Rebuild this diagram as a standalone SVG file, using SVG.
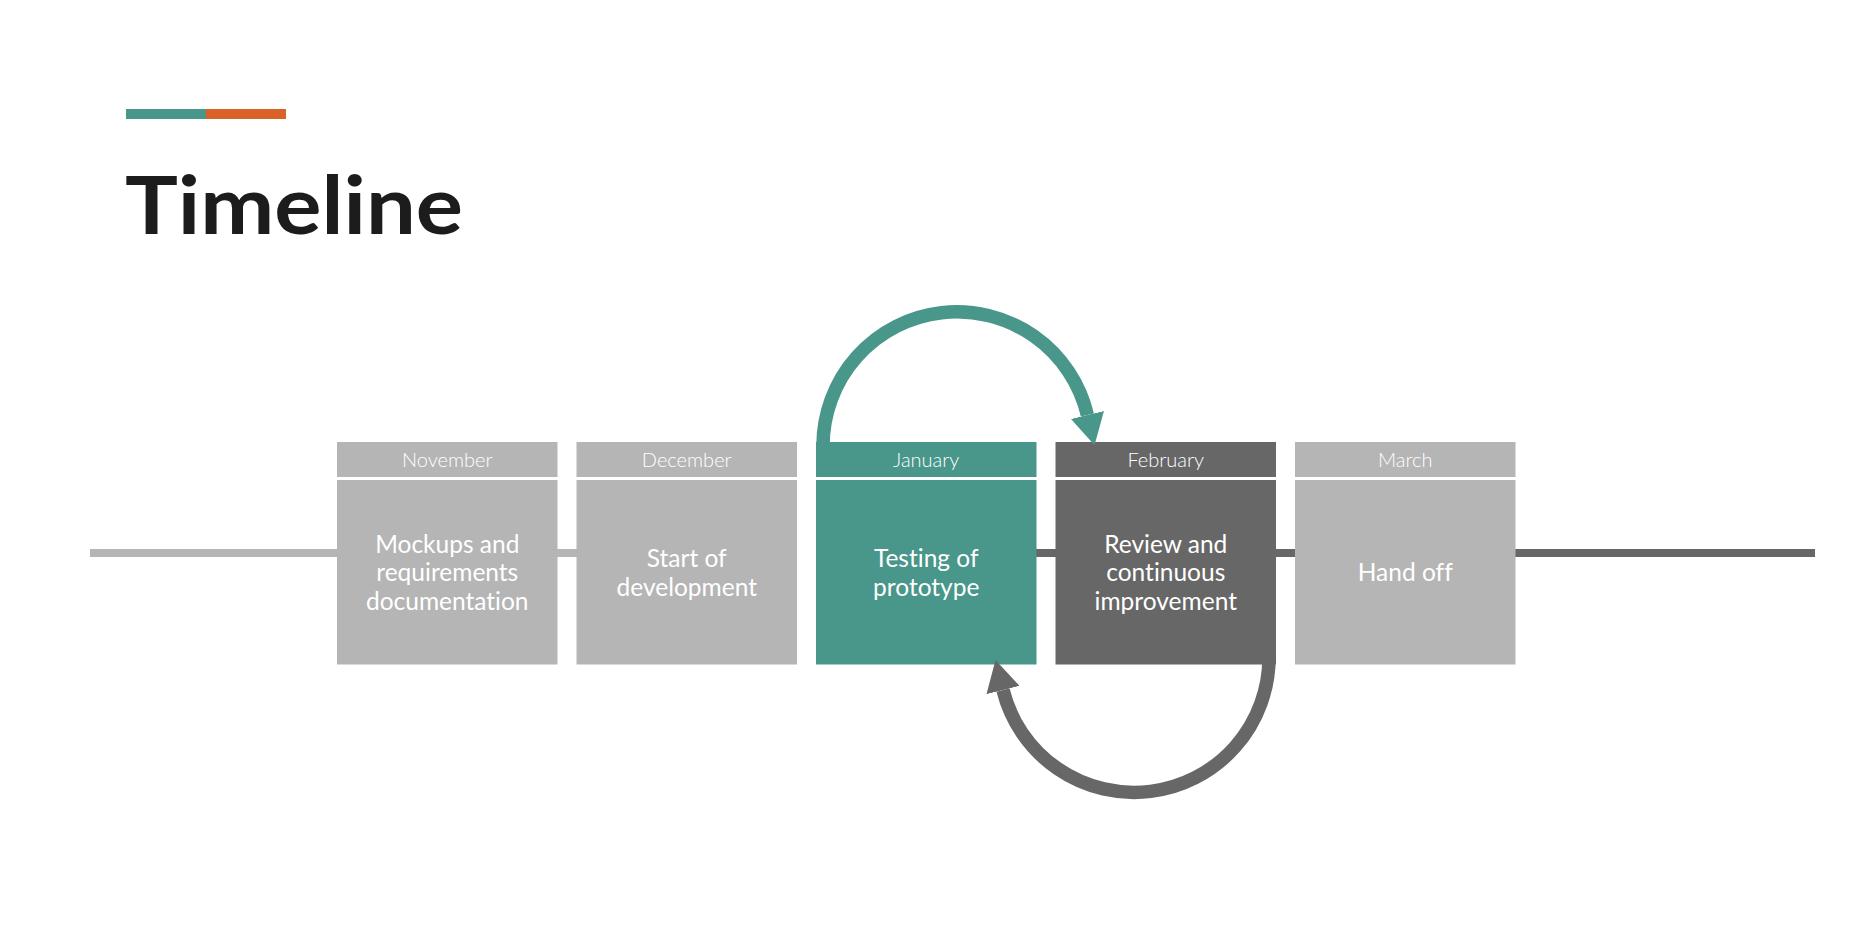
<svg xmlns="http://www.w3.org/2000/svg" width="1868" height="938" viewBox="0 0 1868 938">
  <style>
    .bg { fill: #ffffff; }
    .grey { fill: #B5B5B5; }
    .teal { fill: #49968A; }
    .dark { fill: #676767; }
    text { font-variant-ligatures: none; font-feature-settings: "liga" 0, "clig" 0; }
    .month { font-family: Lato, "Open Sans", sans-serif; font-weight: 300; font-size: 20px; fill: #ffffff; text-anchor: middle; }
    .body { font-family: Lato, "Open Sans", sans-serif; font-weight: 400; font-size: 24.5px; fill: #ffffff; text-anchor: middle; }
    .title { font-family: Lato, "Open Sans", sans-serif; font-weight: 700; font-size: 81px; fill: #1C1C1C; }
  </style>
  <defs>
    <marker id="ah-teal" markerUnits="userSpaceOnUse" viewBox="0 0 32 34" markerWidth="32" markerHeight="34" refX="0" refY="17" orient="auto">
      <path d="M0,0 L31,17 L0,34 Z" fill="#49968A"/>
    </marker>
    <marker id="ah-dark" markerUnits="userSpaceOnUse" viewBox="0 0 32 34" markerWidth="32" markerHeight="34" refX="0" refY="17" orient="auto">
      <path d="M0,0 L31,17 L0,34 Z" fill="#676767"/>
    </marker>
  </defs>
  <rect class="bg" x="0" y="0" width="1868" height="938"/>

  <g id="header">
    <rect x="126" y="109" width="80" height="10" fill="#49968A"/>
    <rect x="206" y="109" width="80" height="10" fill="#DA6127"/>
    <text class="title" x="125" y="234" textLength="338" lengthAdjust="spacingAndGlyphs">Timeline</text>
  </g>

  <g id="timeline-axis">
    <rect x="90" y="549" width="707" height="8" fill="#B5B5B5"/>
    <rect x="1036" y="549" width="779" height="8" fill="#676767"/>
  </g>

  <g id="node-november">
    <rect class="grey" x="337" y="442" width="220.5" height="35"/>
    <rect class="grey" x="337" y="480" width="220.5" height="184.5"/>
    <text class="month" x="447.25" y="467">November</text>
    <text class="body" x="447.25" y="552.5">Mockups and</text>
    <text class="body" x="447.25" y="581">requirements</text>
    <text class="body" x="447.25" y="609.5">documentation</text>
  </g>

  <g id="node-december">
    <rect class="grey" x="576.5" y="442" width="220.5" height="35"/>
    <rect class="grey" x="576.5" y="480" width="220.5" height="184.5"/>
    <text class="month" x="686.75" y="467">December</text>
    <text class="body" x="686.75" y="567">Start of</text>
    <text class="body" x="686.75" y="595.5">development</text>
  </g>

  <g id="node-january">
    <rect class="teal" x="816" y="442" width="220.5" height="35"/>
    <rect class="teal" x="816" y="480" width="220.5" height="184.5"/>
    <text class="month" x="926.25" y="467">January</text>
    <text class="body" x="926.25" y="567">Testing of</text>
    <text class="body" x="926.25" y="595.5">prototype</text>
  </g>

  <g id="node-february">
    <rect class="dark" x="1055.5" y="442" width="220.5" height="35"/>
    <rect class="dark" x="1055.5" y="480" width="220.5" height="184.5"/>
    <text class="month" x="1165.75" y="467">February</text>
    <text class="body" x="1165.75" y="552.5">Review and</text>
    <text class="body" x="1165.75" y="581">continuous</text>
    <text class="body" x="1165.75" y="609.5">improvement</text>
  </g>

  <g id="node-march">
    <rect class="grey" x="1295" y="442" width="220.5" height="35"/>
    <rect class="grey" x="1295" y="480" width="220.5" height="184.5"/>
    <text class="month" x="1405.25" y="467">March</text>
    <text class="body" x="1405.25" y="581">Hand off</text>
  </g>

  <g id="connectors" fill="none" stroke-width="13.5">
    <path d="M823,446 A134,134 0 0 1 1087.4,415" stroke="#49968A" marker-end="url(#ah-teal)"/>
    <path d="M1269,657 A135,135 0 0 1 1003,690" stroke="#676767" marker-end="url(#ah-dark)"/>
  </g>
</svg>
